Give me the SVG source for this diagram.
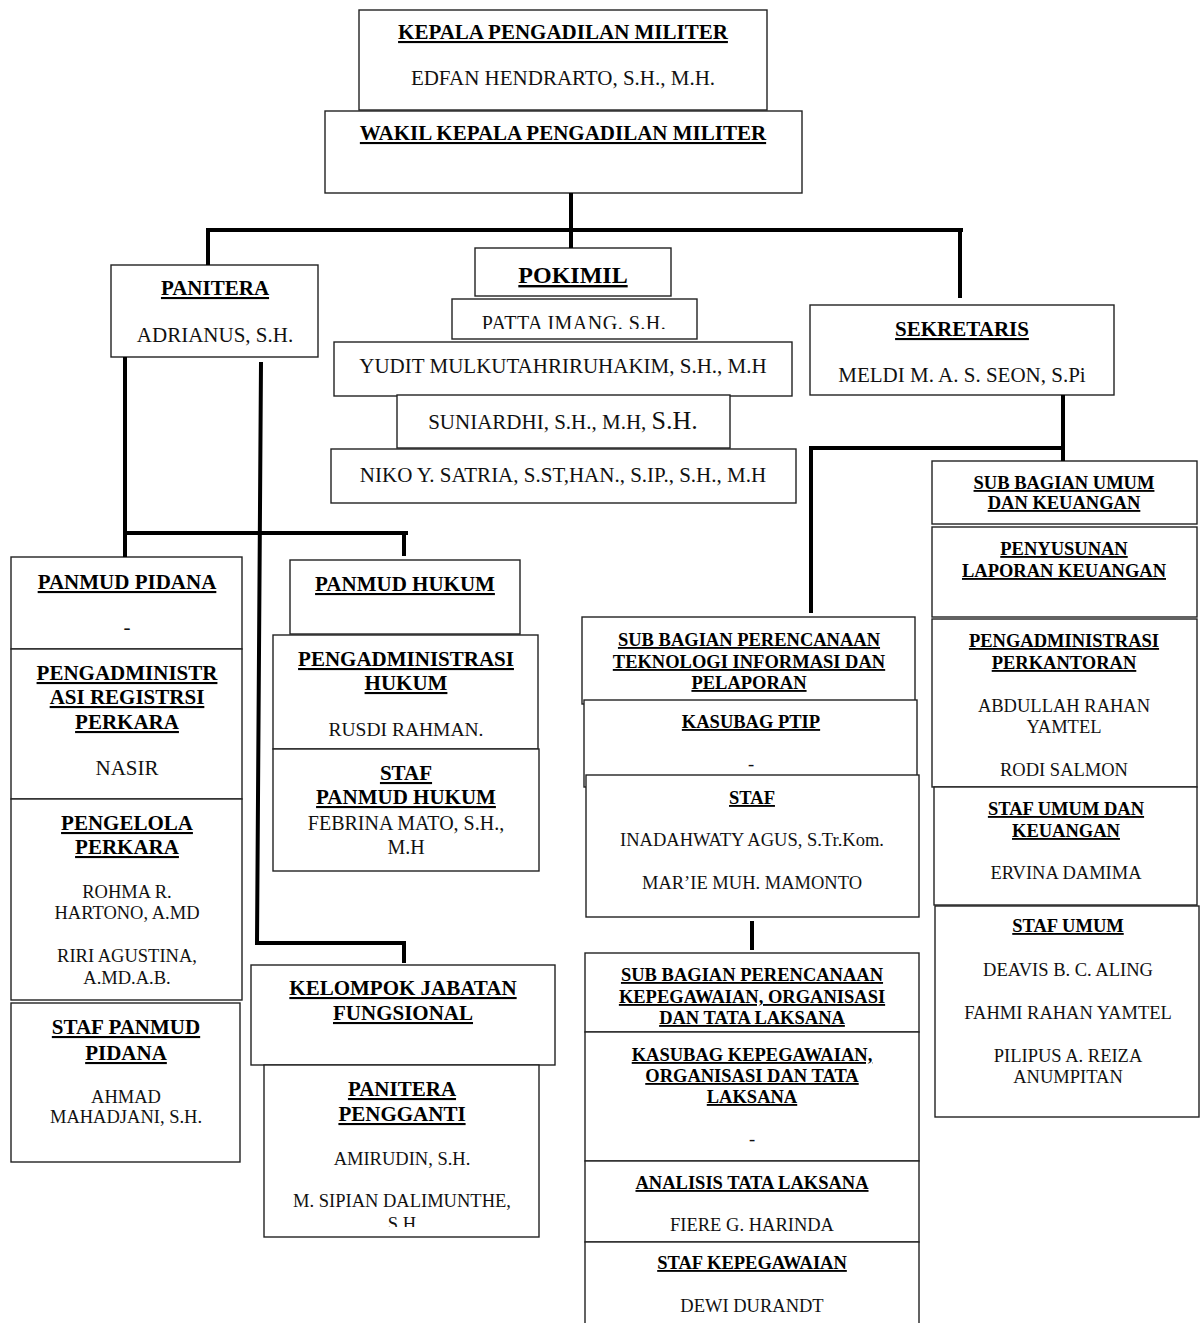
<svg xmlns="http://www.w3.org/2000/svg" width="1200" height="1323" viewBox="0 0 1200 1323">
<style>
.box{fill:#fff;stroke:#222;stroke-width:1.4}
.t{font-family:"Liberation Serif","Times New Roman",serif;font-weight:bold;font-size:21px;text-decoration:underline;text-anchor:middle;fill:#000}
.n{font-family:"Liberation Serif","Times New Roman",serif;font-size:21px;text-anchor:middle;fill:#111}
.s{font-size:18.5px}
.c{fill:none;stroke:#000;stroke-width:4}
</style>
<defs>
<clipPath id="clipPatta"><rect x="452" y="299" width="245" height="30"/></clipPath>
<clipPath id="clipPP"><rect x="264" y="1065" width="275" height="162"/></clipPath>
</defs>
<rect width="1200" height="1323" fill="#fff"/>

<g id="kepala"><rect class="box" x="359" y="10" width="408" height="100"/>
<text class="t" x="563" y="39">KEPALA PENGADILAN MILITER</text>
<text class="n" x="563" y="85">EDFAN HENDRARTO, S.H., M.H.</text></g>

<g id="wakil"><rect class="box" x="325" y="111" width="477" height="82"/>
<text class="t" x="563" y="140">WAKIL KEPALA PENGADILAN MILITER</text></g>

<g id="panitera"><rect class="box" x="111" y="265" width="207" height="92"/>
<text class="t" x="215" y="295">PANITERA</text>
<text class="n" x="215" y="342">ADRIANUS, S.H.</text></g>

<g id="pokimil"><rect class="box" x="475" y="248" width="196" height="48"/>
<text class="t" x="573" y="283" style="font-size:24px">POKIMIL</text></g>

<g id="patta"><rect class="box" x="452" y="299" width="245" height="40"/>
<text class="n" x="574" y="330" style="font-size:20px;letter-spacing:0.5px" clip-path="url(#clipPatta)">PATTA IMANG. S.H.</text></g>

<g id="yudit"><rect class="box" x="334" y="342" width="458" height="54"/>
<text class="n" x="563" y="373">YUDIT MULKUTAHRIRUHAKIM, S.H., M.H</text></g>

<g id="suniardhi"><rect class="box" x="397" y="395" width="333" height="53"/>
<text class="n" x="563" y="429">SUNIARDHI, S.H., M.H, <tspan style="font-size:26px">S.H.</tspan></text></g>

<g id="niko"><rect class="box" x="331" y="449" width="465" height="54"/>
<text class="n" x="563" y="482">NIKO Y. SATRIA, S.ST,HAN., S.IP., S.H., M.H</text></g>

<g id="sekretaris"><rect class="box" x="810" y="305" width="304" height="90"/>
<text class="t" x="962" y="336">SEKRETARIS</text>
<text class="n" x="962" y="382">MELDI M. A. S. SEON, S.Pi</text></g>

<g id="panmud-pidana"><rect class="box" x="11" y="557" width="231" height="92"/>
<text class="t" x="127" y="589">PANMUD PIDANA</text>
<text class="n" x="127" y="634">-</text></g>

<g id="pengadministrasi-registrasi"><rect class="box" x="11" y="649" width="231" height="150"/>
<text class="t" x="127" y="680">PENGADMINISTR</text>
<text class="t" x="127" y="704">ASI REGISTRSI</text>
<text class="t" x="127" y="729">PERKARA</text>
<text class="n" x="127" y="775">NASIR</text></g>

<g id="pengelola-perkara"><rect class="box" x="11" y="799" width="231" height="201"/>
<text class="t" x="127" y="830">PENGELOLA</text>
<text class="t" x="127" y="854">PERKARA</text>
<text class="n s" x="127" y="898">ROHMA R.</text>
<text class="n s" x="127" y="919">HARTONO, A.MD</text>
<text class="n s" x="127" y="962">RIRI AGUSTINA,</text>
<text class="n s" x="127" y="984">A.MD.A.B.</text></g>

<g id="staf-panmud-pidana"><rect class="box" x="11" y="1003" width="229" height="159"/>
<text class="t" x="126" y="1034">STAF PANMUD</text>
<text class="t" x="126" y="1060">PIDANA</text>
<text class="n s" x="126" y="1103">AHMAD</text>
<text class="n s" x="126" y="1123">MAHADJANI, S.H.</text></g>

<g id="panmud-hukum"><rect class="box" x="290" y="560" width="230" height="74"/>
<text class="t" x="405" y="591">PANMUD HUKUM</text></g>

<g id="pengadministrasi-hukum"><rect class="box" x="273" y="635" width="265" height="114"/>
<text class="t" x="406" y="666">PENGADMINISTRASI</text>
<text class="t" x="406" y="690">HUKUM</text>
<text class="n" x="406" y="736" style="font-size:19.5px">RUSDI RAHMAN.</text></g>

<g id="staf-panmud-hukum"><rect class="box" x="273" y="749" width="266" height="122"/>
<text class="t" x="406" y="780">STAF</text>
<text class="t" x="406" y="804">PANMUD HUKUM</text>
<text class="n" x="406" y="830" style="font-size:20px">FEBRINA MATO, S.H.,</text>
<text class="n" x="406" y="854" style="font-size:20px">M.H</text></g>

<g id="kelompok-jabatan-fungsional"><rect class="box" x="251" y="965" width="304" height="100"/>
<text class="t" x="403" y="995">KELOMPOK JABATAN</text>
<text class="t" x="403" y="1020">FUNGSIONAL</text></g>

<g id="panitera-pengganti"><rect class="box" x="264" y="1065" width="275" height="172"/>
<text class="t" x="402" y="1096">PANITERA</text>
<text class="t" x="402" y="1121">PENGGANTI</text>
<text class="n s" x="402" y="1165">AMIRUDIN, S.H.</text>
<text class="n s" x="402" y="1207">M. SIPIAN DALIMUNTHE,</text>
<text class="n s" x="402" y="1230" clip-path="url(#clipPP)">S.H</text></g>

<g id="sub-bagian-umum"><rect class="box" x="932" y="461" width="265" height="63"/>
<text class="t s" x="1064" y="489">SUB BAGIAN UMUM</text>
<text class="t s" x="1064" y="509">DAN KEUANGAN</text></g>

<g id="penyusunan-laporan"><rect class="box" x="932" y="527" width="265" height="90"/>
<text class="t s" x="1064" y="555">PENYUSUNAN</text>
<text class="t s" x="1064" y="577">LAPORAN KEUANGAN</text></g>

<g id="pengadministrasi-perkantoran"><rect class="box" x="932" y="619" width="265" height="168"/>
<text class="t s" x="1064" y="647">PENGADMINISTRASI</text>
<text class="t s" x="1064" y="669">PERKANTORAN</text>
<text class="n s" x="1064" y="712">ABDULLAH RAHAN</text>
<text class="n s" x="1064" y="733">YAMTEL</text>
<text class="n s" x="1064" y="776">RODI SALMON</text></g>

<g id="staf-umum-keuangan"><rect class="box" x="934" y="787" width="263" height="118"/>
<text class="t s" x="1066" y="815">STAF UMUM DAN</text>
<text class="t s" x="1066" y="837">KEUANGAN</text>
<text class="n s" x="1066" y="879">ERVINA DAMIMA</text></g>

<g id="staf-umum"><rect class="box" x="935" y="906" width="264" height="211"/>
<text class="t s" x="1068" y="932">STAF UMUM</text>
<text class="n s" x="1068" y="976">DEAVIS B. C. ALING</text>
<text class="n s" x="1068" y="1019">FAHMI RAHAN YAMTEL</text>
<text class="n s" x="1068" y="1062">PILIPUS A. REIZA</text>
<text class="n s" x="1068" y="1083">ANUMPITAN</text></g>

<g id="sub-bagian-ptip"><rect class="box" x="582" y="617" width="333" height="87"/>
<text class="t s" x="749" y="646">SUB BAGIAN PERENCANAAN</text>
<text class="t s" x="749" y="668">TEKNOLOGI INFORMASI DAN</text>
<text class="t s" x="749" y="689">PELAPORAN</text></g>

<g id="kasubag-ptip"><rect class="box" x="584" y="700" width="333" height="87"/>
<text class="t s" x="751" y="728">KASUBAG PTIP</text>
<text class="n s" x="751" y="770">-</text></g>

<g id="staf-ptip"><rect class="box" x="586" y="775" width="333" height="142"/>
<text class="t s" x="752" y="804">STAF</text>
<text class="n s" x="752" y="846">INADAHWATY AGUS, S.Tr.Kom.</text>
<text class="n s" x="752" y="889">MAR’IE MUH. MAMONTO</text></g>

<g id="sub-bagian-kepegawaian"><rect class="box" x="585" y="953" width="334" height="79"/>
<text class="t s" x="752" y="981">SUB BAGIAN PERENCANAAN</text>
<text class="t s" x="752" y="1003">KEPEGAWAIAN, ORGANISASI</text>
<text class="t s" x="752" y="1024">DAN TATA LAKSANA</text></g>

<g id="kasubag-kepegawaian"><rect class="box" x="585" y="1032" width="334" height="129"/>
<text class="t s" x="752" y="1061">KASUBAG KEPEGAWAIAN,</text>
<text class="t s" x="752" y="1082">ORGANISASI DAN TATA</text>
<text class="t s" x="752" y="1103">LAKSANA</text>
<text class="n s" x="752" y="1145">-</text></g>

<g id="analisis-tata-laksana"><rect class="box" x="585" y="1161" width="334" height="81"/>
<text class="t s" x="752" y="1189">ANALISIS TATA LAKSANA</text>
<text class="n s" x="752" y="1231">FIERE G. HARINDA</text></g>

<g id="staf-kepegawaian"><rect class="box" x="585" y="1242" width="334" height="90"/>
<text class="t s" x="752" y="1269">STAF KEPEGAWAIAN</text>
<text class="n s" x="752" y="1312">DEWI DURANDT</text></g>

<g id="connectors">
<path class="c" d="M571,193 V248"/>
<path class="c" d="M208,265 V230 H963"/>
<path class="c" d="M960,230 V298"/>
<path class="c" d="M125,357 V557"/>
<path class="c" d="M125,533 H408"/>
<path class="c" d="M404,533 V556"/>
<path class="c" d="M261,362 L257,943 H404 V963"/>
<path class="c" d="M1063,395 V461"/>
<path class="c" d="M811,613 V448 H1063"/>
<path class="c" d="M752,921 V950"/>
</g>
</svg>
